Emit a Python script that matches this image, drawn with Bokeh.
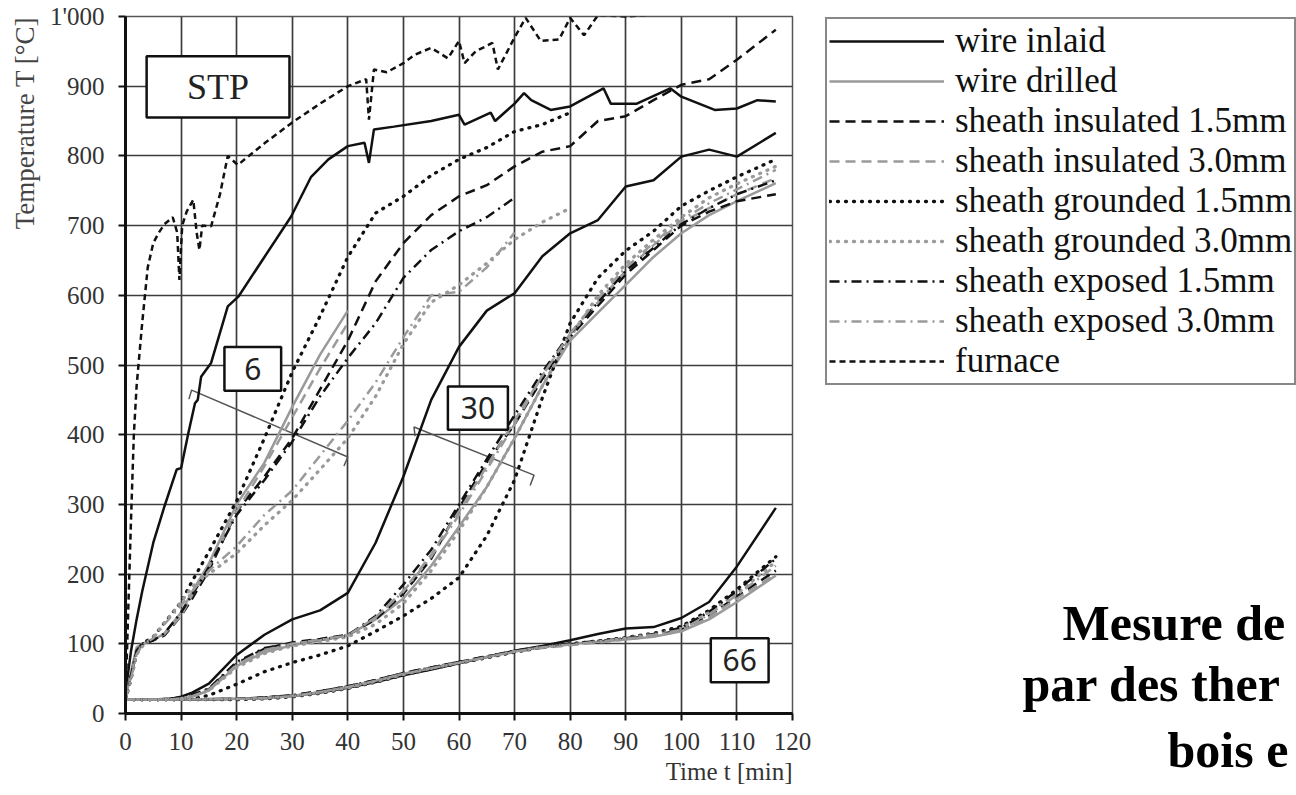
from bokeh.plotting import figure
from bokeh.layouts import row
from bokeh.models import Range1d, FixedTicker, Legend, LegendItem, Label, BoxAnnotation, Title
from bokeh.embed import file_html
from bokeh.resources import INLINE

# ---------------- data ----------------
X_TICKS = list(range(0, 121, 10))
Y_TICKS = list(range(0, 1001, 100))
Y_LABEL_OVERRIDES = {1000: "1'000"}
X_TITLE = "Time t [min]"
Y_TITLE = "Temperature T [°C]"
CAPTION = ["Mesure de", "par des ther", "bois e"]

TYPES = ["wire inlaid", "wire drilled", "sheath insulated 1.5mm", "sheath insulated 3.0mm",
         "sheath grounded 1.5mm", "sheath grounded 3.0mm", "sheath exposed 1.5mm",
         "sheath exposed 3.0mm", "furnace"]

# furnace
F_T = [0, 0.5, 1, 1.5, 2, 3, 4, 5, 6, 7, 8.5, 9.3, 9.7, 10.2, 11, 12.2, 12.8, 13.3, 13.8, 15.4,
       17, 18.4, 20.2, 25, 30, 35, 40, 43.3, 43.8, 44.7, 47, 50, 52, 55, 58, 60, 61, 63, 66, 67,
       70, 72, 74.7, 78, 80, 82.5, 85, 90, 95, 100, 110, 117]
F_V = [20, 150, 280, 400, 470, 560, 640, 675, 690, 702, 712, 690, 622, 700, 720, 737, 690, 665, 700, 699,
       745, 800, 787, 818, 848, 875, 900, 910, 852, 924, 920, 933, 945, 955, 940, 965, 933, 950, 962, 924,
       970, 998, 965, 967, 998, 973, 1002, 1000, 1003, 1020, 1035, 1040]

# depth 6 mm
WI6_T = [0, 0.5, 1, 2, 3, 5, 7, 9.2, 10, 11.3, 12.5, 13, 13.6, 15.4, 18.4, 20.3, 25, 29.8, 33.4, 36.5,
         40, 43, 43.8, 44.7, 48.3, 55, 60, 61, 65.7, 66.5, 70, 71.7, 73, 76.5, 80, 86, 87.3, 92, 98, 100,
         106, 110, 113.7, 117]
WI6_V = [20, 60, 90, 135, 175, 245, 297, 350, 352, 402, 445, 450, 483, 503, 584, 598, 655, 713, 770, 795,
         814, 819, 790, 838, 842, 850, 859, 845, 862, 850, 875, 890, 880, 866, 871, 897, 875, 875, 897, 885,
         866, 868, 880, 878]
G6 = [0, 1, 2, 3, 5, 7, 10, 12, 15, 20, 25, 30, 35, 40, 45, 50, 55, 60, 65, 70, 75, 80, 85, 90, 95, 100, 105, 110, 117]
WD6 = [20, 60, 95, 100, 105, 115, 145, 175, 215, 300, 360, 440, 515, 578] + [None] * 15
I15_6 = [20, 55, 90, 100, 105, 112, 140, 165, 205, 290, 340, 395, 465, 535, 620, 675, 715, 742, 758, 785,
         806, 814, 850, 857, 880, 902, 910, 938, 981]
I30_6 = [20, 55, 90, 100, 106, 114, 140, 170, 210, 290, 355, 425, 495, 560] + [None] * 15
G15_6 = [20, 50, 85, 100, 110, 130, 160, 190, 232, 305, 395, 490, 570, 655, 718, 742, 772, 795, 812, 835,
         845, 862] + [None] * 7
G30_6 = [20, 50, 85, 96, 110, 130, 160, 182, 200, 230, 270, 306, 350, 395, 455, 530, 590, 615, 646, 680,
         705, 725] + [None] * 7
E15_6 = [20, 55, 90, 100, 105, 115, 145, 170, 210, 285, 335, 390, 455, 510, 560, 625, 665, 692, 712, 740] + [None] * 9
E30_6 = [20, 50, 85, 98, 108, 128, 155, 175, 205, 240, 285, 320, 370, 420, 475, 540, 600, 605, 640, 690] + [None] * 9

# depth 30 mm
G30 = [0, 5, 8, 10, 12, 15, 20, 25, 30, 35, 40, 45, 50, 55, 60, 65, 70, 75, 80, 85, 90, 95, 100, 105, 110, 117]
WI30 = [20, 20, 21, 24, 30, 43, 84, 113, 135, 148, 173, 245, 340, 450, 526, 578, 603, 656, 689, 708, 756, 765, 799, 809, 799, 833]
WD30 = [20, 20, 20, 21, 24, 33, 68, 88, 98, 105, 112, 135, 165, 212, 268, 325, 395, 470, 535, 575, 615, 655, 689, 715, 735, 761]
I15_30 = [20, 20, 21, 23, 26, 35, 72, 93, 102, 107, 113, 135, 172, 222, 295, 360, 415, 480, 540, 585, 630, 665, 700, 720, 735, 745]
I30_30 = [20, 20, 20, 22, 25, 34, 70, 90, 100, 105, 112, 138, 176, 228, 290, 355, 420, 485, 545, 590, 635, 672, 705, 725, 745, 768]
G15_30 = [20, 20, 20, 20, 21, 26, 42, 60, 73, 84, 97, 118, 140, 165, 195, 255, 335, 453, 560, 625, 664, 692, 728, 750, 770, 795]
G30_30 = [20, 20, 20, 21, 24, 33, 66, 86, 97, 103, 110, 128, 158, 205, 262, 325, 395, 470, 540, 600, 645, 680, 712, 740, 760, 785]
E15_30 = [20, 20, 21, 23, 27, 36, 74, 94, 100, 106, 112, 140, 185, 235, 300, 365, 428, 490, 545, 590, 635, 668, 702, 725, 745, 765]
E30_30 = [20, 20, 20, 22, 25, 34, 70, 91, 100, 106, 112, 138, 175, 225, 285, 350, 415, 485, 545, 595, 640, 675, 708, 732, 752, 780]

# depth 66 mm
G66 = [0, 10, 20, 25, 30, 35, 40, 45, 50, 55, 60, 65, 70, 75, 80, 85, 90, 95, 100, 105, 110, 117]
WI66 = [20, 20, 21, 22, 25, 30, 37, 45, 55, 63, 72, 81, 90, 97, 105, 114, 122, 124, 137, 160, 211, 295]
WD66 = [20, 20, 21, 22, 25, 31, 38, 47, 57, 65, 73, 81, 89, 95, 100, 103, 106, 110, 118, 135, 160, 198]
I15_66 = [20, 20, 21, 23, 26, 32, 39, 48, 58, 66, 74, 82, 89, 95, 99, 103, 107, 112, 120, 140, 168, 205]
I30_66 = [20, 20, 21, 22, 25, 31, 38, 47, 57, 65, 73, 81, 88, 94, 98, 102, 106, 111, 118, 138, 165, 200]
G15_66 = [20, 20, 20, 21, 24, 29, 36, 45, 55, 64, 72, 80, 88, 95, 100, 104, 109, 115, 125, 148, 178, 225]
G30_66 = [20, 20, 21, 22, 25, 30, 37, 46, 56, 65, 73, 81, 89, 95, 99, 103, 108, 114, 122, 145, 172, 218]
E15_66 = [20, 20, 21, 23, 26, 32, 39, 48, 58, 66, 74, 82, 90, 96, 100, 104, 108, 114, 123, 146, 176, 222]
E30_66 = [20, 20, 21, 22, 25, 31, 38, 47, 57, 65, 73, 81, 89, 95, 99, 103, 107, 113, 120, 142, 170, 212]

# annotation boxes (data units): text, left, right, bottom, top
BOXES = [("STP", 3.8, 29.5, 855, 943), ("6", 17.8, 28.0, 463, 526),
         ("30", 58.0, 68.8, 407, 469), ("66", 105.3, 115.7, 45, 108)]
BRACKETS = [([11.4, 11.9, 40.0, 39.3], [451, 464, 368, 355]),
            ([52.1, 51.9, 73.5, 72.8], [398, 411, 342, 327])]

# ---------------- styles ----------------
FONT = "Liberation Serif"
BLACK = "#111111"
GRAY = "#9a9a9a"
STYLES = [  # color, dash, width, cap
    (BLACK, "solid", 2.5, "butt"), (GRAY, "solid", 2.5, "butt"),
    (BLACK, "10 6", 2.5, "butt"), (GRAY, "10 6", 2.5, "butt"),
    (BLACK, "1 7", 3.3, "round"), (GRAY, "1 7", 3.3, "round"),
    (BLACK, "10 5 2 5", 2.5, "butt"), (GRAY, "10 5 2 5", 2.5, "butt"),
    (BLACK, "6 4", 2.5, "butt"),
]
SERIES = [
    [(WI6_T, WI6_V), (G30, WI30), (G66, WI66)],
    [(G6, WD6), (G30, WD30), (G66, WD66)],
    [(G6, I15_6), (G30, I15_30), (G66, I15_66)],
    [(G6, I30_6), (G30, I30_30), (G66, I30_66)],
    [(G6, G15_6), (G30, G15_30), (G66, G15_66)],
    [(G6, G30_6), (G30, G30_30), (G66, G30_66)],
    [(G6, E15_6), (G30, E15_30), (G66, E15_66)],
    [(G6, E30_6), (G30, E30_30), (G66, E30_66)],
    [(F_T, F_V)],
]

# ---------------- main chart ----------------
W1, H = 811, 795
TOP, BOTTOM = 16, 82
p = figure(width=W1, height=H, x_range=Range1d(0, 120), y_range=Range1d(0, 1000),
           output_backend="svg", toolbar_location=None,
           min_border_left=124, min_border_right=W1 - 792, min_border_top=TOP, min_border_bottom=BOTTOM)
p.background_fill_color = "white"
p.border_fill_color = "white"
p.outline_line_color = "#555555"
p.outline_line_width = 1.5

p.xaxis.ticker = FixedTicker(ticks=X_TICKS)
p.yaxis.ticker = FixedTicker(ticks=Y_TICKS)
p.yaxis.major_label_overrides = Y_LABEL_OVERRIDES
for ax in (p.xaxis, p.yaxis):
    ax.axis_line_width = 3
    ax.axis_line_color = BLACK
    ax.major_tick_line_width = 2
    ax.major_tick_line_color = BLACK
    ax.major_tick_out = 7
    ax.major_tick_in = 0
    ax.minor_tick_line_color = None
    ax.major_label_text_font = FONT
    ax.major_label_text_font_size = "25px"
    ax.major_label_text_color = "#333333"
p.xaxis.major_label_standoff = 12
p.yaxis.major_label_standoff = 14

p.xgrid.grid_line_color = "#3c3c3c"
p.ygrid.grid_line_color = "#3c3c3c"
p.xgrid.grid_line_width = 1.7
p.ygrid.grid_line_width = 1.7

p.add_layout(Title(text=Y_TITLE, align="right", text_font=FONT, text_font_size="27px",
                   text_font_style="normal", text_color="#444444", standoff=14, offset=0), "left")
p.add_layout(Title(text=X_TITLE, align="right", text_font=FONT, text_font_size="25px",
                   text_font_style="normal", text_color="#333333", standoff=7, offset=0), "below")

for bx, by in BRACKETS:
    p.line(bx, by, line_color="#555555", line_width=1.5)


def add_type(plot, series, style):
    color, dash, width, cap = style
    xs, ys = [], []
    for tt, vv in series:
        pts = [(a, b) for a, b in zip(tt, vv) if b is not None]
        xs.append([a for a, _ in pts])
        ys.append([b for _, b in pts])
    return plot.multi_line(xs, ys, line_color=color, line_dash=dash, line_width=width, line_cap=cap)


for ser, sty in zip(SERIES, STYLES):
    add_type(p, ser, sty)

for txt, l, r, b, t in BOXES:
    p.add_layout(BoxAnnotation(left=l, right=r, bottom=b, top=t, fill_color="white", fill_alpha=1,
                               line_color=BLACK, line_alpha=1, line_width=2.5))
for txt, l, r, b, t in BOXES:
    is_stp = txt == "STP"
    p.add_layout(Label(x=(l + r) / 2, y=(b + t) / 2, text=txt, text_align="center",
                       text_baseline="middle", text_color="#222222",
                       text_font=FONT if is_stp else "Noto Sans",
                       text_font_size="36px" if is_stp else "30px"))

# ---------------- right panel: legend + caption ----------------
# same borders as the main chart, so its frame spans the same rows; y data == H - pixel row
W2 = 1296 - W1
q = figure(width=W2, height=H, x_range=Range1d(0, W2), y_range=Range1d(BOTTOM, H - TOP),
           output_backend="svg", toolbar_location=None, x_axis_location=None, y_axis_location=None,
           min_border_left=0, min_border_right=0, min_border_top=TOP, min_border_bottom=BOTTOM)
q.outline_line_color = None
q.xgrid.visible = False
q.ygrid.visible = False
q.background_fill_color = "white"
q.border_fill_color = "white"

dummies = [add_type(q, [([], [])], sty) for sty in STYLES]
legend = Legend(items=[LegendItem(label=n, renderers=[r]) for n, r in zip(TYPES, dummies)],
                location=(825 - W1, (H - BOTTOM) - 385))
legend.label_text_font = FONT
legend.label_text_font_size = "35px"
legend.label_text_color = "#111111"
legend.glyph_width = 115
legend.glyph_height = 40
legend.label_height = 40
legend.spacing = 0
legend.padding = 2
legend.margin = 0
legend.label_standoff = 11
legend.border_line_color = BLACK
legend.border_line_width = 2.5
legend.background_fill_alpha = 1
q.add_layout(legend)

for txt, px, py in zip(CAPTION[:2], [1062, 1022], [622, 683]):
    q.add_layout(Label(x=px - W1, y=H - py, text=txt, text_align="left", text_baseline="alphabetic",
                       text_font=FONT, text_font_size="50px", text_font_style="bold",
                       text_color="#000000"))
q.add_layout(Title(text=CAPTION[2], align="left", offset=1167 - W1, standoff=13, text_font=FONT,
                   text_font_size="50px", text_font_style="bold", text_color="#000000"), "below")

layout = row(p, q, spacing=0)
open("out.html", "w").write(file_html(layout, INLINE))
